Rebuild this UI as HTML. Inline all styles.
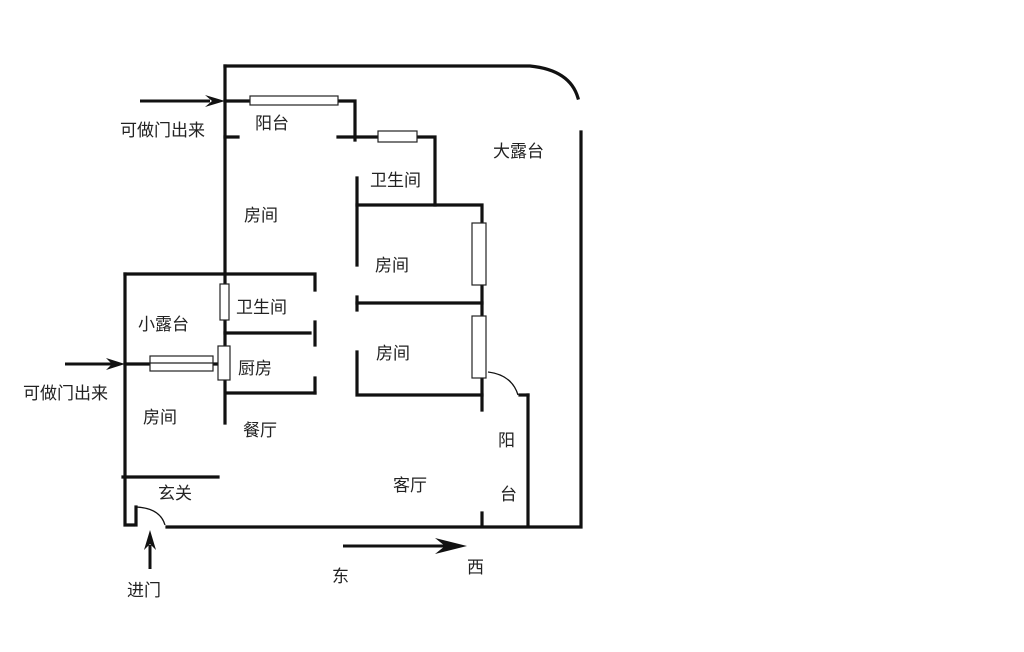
<!DOCTYPE html>
<html><head><meta charset="utf-8"><style>
html,body{margin:0;padding:0;background:#fff;}
svg{display:block}
text{font-family:"Liberation Sans","Noto Sans CJK SC",sans-serif;font-size:17px;fill:#222}
</style></head><body>
<svg width="1024" height="652" viewBox="0 0 1024 652" xmlns="http://www.w3.org/2000/svg">
<g stroke="#111" stroke-width="3.2" fill="none" stroke-linecap="square">
<!-- outer -->
<path d="M225 66 H530 Q570 70 578 98"/>
<path d="M581 132 V527 H167"/>
<path d="M125 274 V525 H133"/>
<!-- left main wall -->
<path d="M225 66 V423"/>
<!-- balcony top -->
<path d="M225 101 H355 V140"/>
<path d="M225 137 H238"/>
<path d="M338 137 H435 V205"/>
<path d="M357 178 V265"/>
<path d="M357 205 H482 V410"/>
<path d="M357 303 H482"/>
<path d="M357 297 V310"/>
<path d="M357 352 V395 H482"/>
<!-- little block -->
<path d="M125 274 H315 V290"/>
<path d="M315 322 V345"/>
<path d="M315 378 V393"/>
<path d="M225 333 H310"/>
<path d="M228 393 H315"/>
<path d="M125 364 H220"/>
<path d="M123 477 H218"/>
<!-- door left leaf -->
<path d="M136 525 V507"/>
<!-- right balcony -->
<path d="M528 395 V525"/>
<path d="M520 395 H528"/>
<path d="M482 513 V525"/>
</g>
<g stroke="#111" stroke-width="1.3" fill="none">
<path d="M136 507 Q160 508 165 525"/>
<path d="M488 372 Q512 375 518 395"/>
</g>
<!-- windows -->
<g stroke="#222" stroke-width="1.2" fill="#fff">
<rect x="250" y="96" width="88" height="9"/>
<rect x="378" y="131" width="39" height="11"/>
<rect x="472" y="223" width="14" height="62"/>
<rect x="472" y="316" width="14" height="62"/>
<rect x="220" y="284" width="9" height="36"/>
<rect x="218" y="346" width="12" height="34"/>
<rect x="150" y="356" width="63" height="15"/>
<line x1="150" y1="363" x2="213" y2="363"/>
</g>
<!-- arrows -->
<g stroke="#111" stroke-width="3" fill="#111">
<line x1="140" y1="101" x2="210" y2="101"/>
<polygon points="225,101 205,95 212,101 205,107" stroke="none"/>
<line x1="65" y1="364" x2="112" y2="364"/>
<polygon points="125,364 106,358 112,364 106,370" stroke="none"/>
<line x1="150" y1="569" x2="150" y2="545"/>
<polygon points="150,530 144,550 150,544 156,550" stroke="none"/>
<line x1="343" y1="546" x2="445" y2="546"/>
<polygon points="467,546 435,538 445,546 435,554" stroke="none"/>
</g>
<text x="120" y="136">可做门出来</text>
<text x="255" y="129">阳台</text>
<text x="370" y="186">卫生间</text>
<text x="493" y="157">大露台</text>
<text x="244" y="221">房间</text>
<text x="375" y="271">房间</text>
<text x="236" y="313">卫生间</text>
<text x="138" y="330">小露台</text>
<text x="238" y="374">厨房</text>
<text x="23" y="399">可做门出来</text>
<text x="143" y="423">房间</text>
<text x="376" y="359">房间</text>
<text x="243" y="436">餐厅</text>
<text x="393" y="491">客厅</text>
<text x="498" y="446">阳</text>
<text x="500" y="500">台</text>
<text x="158" y="499">玄关</text>
<text x="127" y="596">进门</text>
<text x="332" y="582">东</text>
<text x="467" y="573">西</text>
</svg>
</body></html>
